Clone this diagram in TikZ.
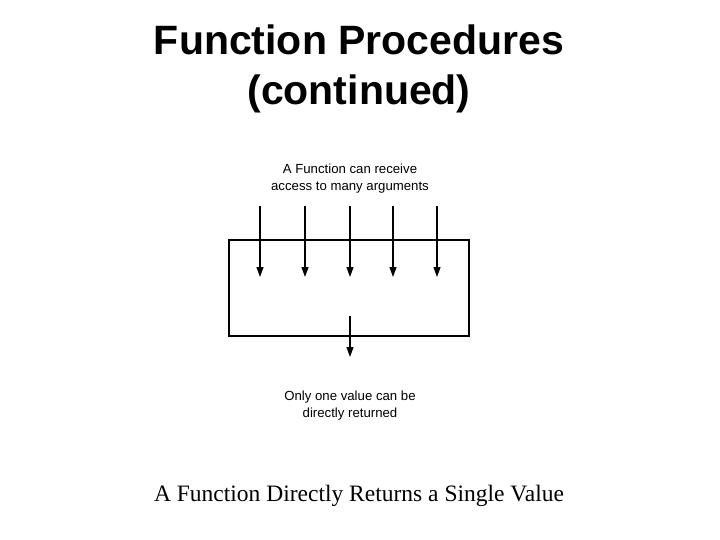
\documentclass[tikz,border=0pt]{standalone}
\usepackage{fontspec}
\setmainfont{Liberation Serif}
\newfontfamily\arialf{Liberation Sans}
\usetikzlibrary{arrows.meta}
\begin{document}
\begin{tikzpicture}[x=1pt,y=-1pt,
  arr/.style={line width=1.2pt,-{Triangle[width=7pt,length=10pt]}},
  small/.style={font=\arialf\fontsize{13.2}{17}\selectfont,align=center,inner sep=0pt}]
\useasboundingbox (0,0) rectangle (720,540);
\node[font=\arialf\bfseries\fontsize{41}{50}\selectfont,align=center] (title) at (359,69) {Function Procedures\\(continued)};
\node[small] (top) at (350,179) {A Function can receive\\access to many arguments};
\node[draw,line width=1.3pt,minimum width=240pt,minimum height=96pt,inner sep=0pt] (box) at (349,288) {};
\foreach \x [count=\i] in {260,305,350,393,437}{
  \coordinate (s\i) at (\x,206);
  \coordinate (e\i) at (\x,277);
  \draw[arr] (s\i) -- (e\i);
}
\coordinate (os) at (350,316);
\coordinate (oe) at (350,357);
\draw[arr] (os) -- (oe);
\node[small] (bot) at (350,406) {Only one value can be\\directly returned};
\node[font=\fontsize{23.5}{28}\selectfont] (cap) at (359,496) {A Function Directly Returns a Single Value};
\end{tikzpicture}
\end{document}
